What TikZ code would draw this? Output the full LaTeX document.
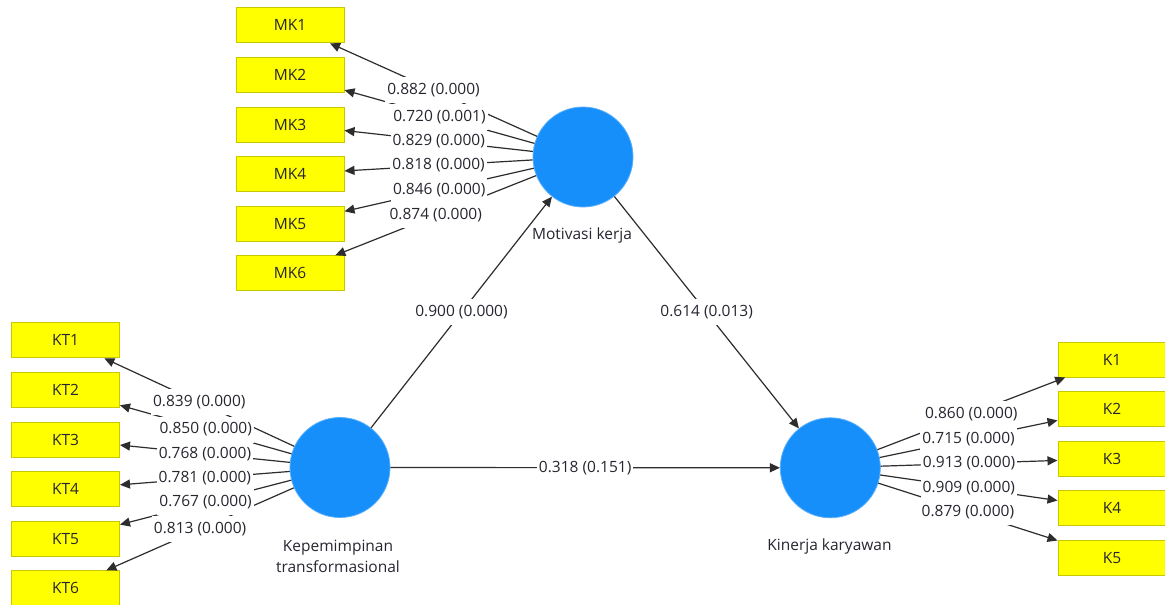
\documentclass[tikz,border=0pt]{standalone}
\usepackage{fontspec}
\setmainfont{Open Sans}
\usetikzlibrary{arrows.meta}
\definecolor{lvblue}{RGB}{22,143,250}
\definecolor{lvedge}{RGB}{90,175,250}
\definecolor{mvyellow}{RGB}{255,255,0}
\definecolor{mvborder}{RGB}{200,200,0}
\definecolor{linegray}{RGB}{45,45,45}
\definecolor{txt}{RGB}{38,38,48}
\begin{document}
\begin{tikzpicture}[x=1pt,y=-1pt,
  font=\fontsize{15.5}{21}\selectfont,
  lv/.style={circle, fill=lvblue, draw=lvedge, line width=0.8pt, minimum size=100pt, inner sep=0pt},
  mv/.style={rectangle, fill=mvyellow, draw=mvborder, line width=1pt, minimum width=108pt, minimum height=35pt, inner sep=0pt, text=txt},
  conn/.style={draw=linegray, line width=1.2pt, -{Triangle[length=10pt,width=9pt]}},
  lbl/.style={fill=white, inner xsep=2pt, inner ysep=0pt, minimum height=26pt, text=txt},
  lvlbl/.style={text=txt, align=center, inner sep=0pt}
]
\clip (0,0) rectangle (1165,605);
\fill[white] (0,0) rectangle (1165,605);

% latent variables
\node[lv] (MKc) at (583,157) {};
\node[lv] (KTc) at (340,467.5) {};
\node[lv] (Kc) at (830.3,467.8) {};
\node[lvlbl] (MKl) at (582,235) {Motivasi kerja};
\node[lvlbl] (KTl) at (338,556) {Kepemimpinan\\transformasional};
\node[lvlbl] (Kl) at (829.5,546) {Kinerja karyawan};

% indicators
\foreach \i/\y in {1/25.3,2/74.9,3/124.5,4/174.1,5/223.7,6/273.3}
  \node[mv] (mk\i) at (290,\y) {MK\i};
\foreach \i/\y in {1/340.3,2/389.9,3/439.5,4/489.1,5/538.7,6/588.3}
  \node[mv] (kt\i) at (65.5,\y) {KT\i};
\foreach \i/\y in {1/359.5,2/409.1,3/458.7,4/508.3,5/557.9}
  \node[mv] (k\i) at (1112,\y) {K\i};

% connectors
\foreach \i in {1,...,6} \draw[conn] (MKc) -- (mk\i);
\foreach \i in {1,...,6} \draw[conn] (KTc) -- (kt\i);
\foreach \i in {1,...,5} \draw[conn] (Kc) -- (k\i);
\draw[conn] (KTc) -- (MKc);
\draw[conn] (MKc) -- (Kc);
\draw[conn] (KTc) -- (Kc);

% labels
\foreach \i/\t in {1/0.882 (0.000),2/0.720 (0.001),3/0.829 (0.000),4/0.818 (0.000),5/0.846 (0.000),6/0.874 (0.000)}
  \path (MKc) -- (mk\i) node[midway,lbl] {\t};
\foreach \i/\t in {1/0.839 (0.000),2/0.850 (0.000),3/0.768 (0.000),4/0.781 (0.000),5/0.767 (0.000),6/0.813 (0.000)}
  \path (KTc) -- (kt\i) node[midway,lbl] {\t};
\foreach \i/\t in {1/0.860 (0.000),2/0.715 (0.000),3/0.913 (0.000),4/0.909 (0.000),5/0.879 (0.000)}
  \path (Kc) -- (k\i) node[midway,lbl] {\t};
\path (KTc) -- (MKc) node[midway,lbl] {0.900 (0.000)};
\path (MKc) -- (Kc) node[midway,lbl] {0.614 (0.013)};
\path (KTc) -- (Kc) node[midway,lbl] {0.318 (0.151)};
\end{tikzpicture}
\end{document}
